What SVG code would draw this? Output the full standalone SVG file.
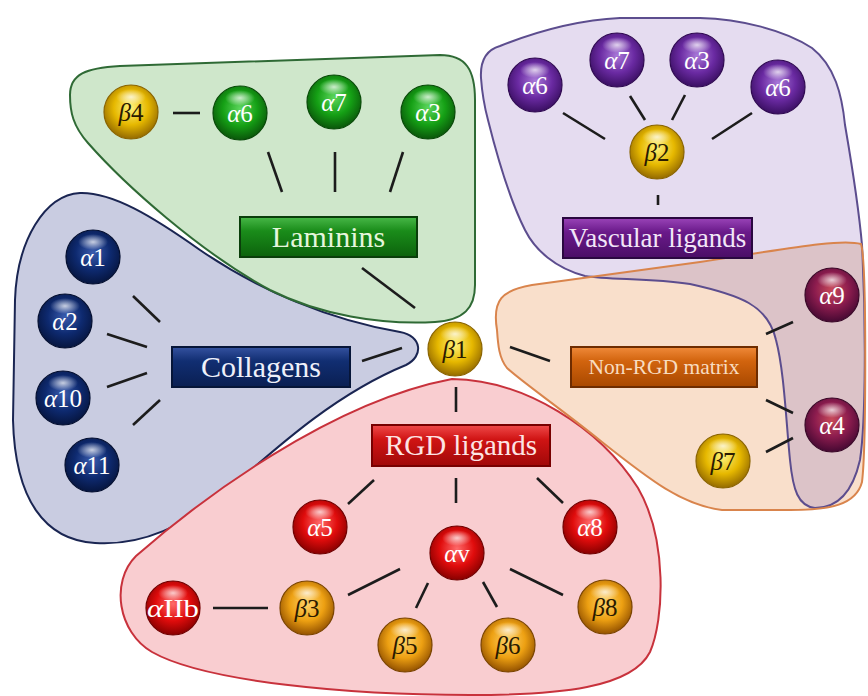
<svg xmlns="http://www.w3.org/2000/svg" width="868" height="696" viewBox="0 0 868 696">
  <defs>
    <style>
      .region { stroke-width: 2; stroke-linejoin: round; }
      .link { stroke: #1c1c1c; stroke-width: 2.6; stroke-linecap: butt; fill: none; }
      .ball { stroke-width: 1.2; }
      .shine { fill: url(#shine); }
      .lbl-w { font-family: "Liberation Serif", "DejaVu Serif", serif; font-size: 25px; fill: #ffffff; text-anchor: middle; }
      .lbl-d { font-family: "Liberation Serif", "DejaVu Serif", serif; font-size: 25px; fill: #2a1a00; text-anchor: middle; }
      .greek { font-style: italic; }
      .box { stroke-width: 2; }
      .boxtxt { font-family: "Liberation Serif", "DejaVu Serif", serif; text-anchor: middle; }
    </style>

    <!-- sphere shading -->
    <radialGradient id="gGreen" cx="50%" cy="42%" r="58%">
      <stop offset="0" stop-color="#5cd65c"/>
      <stop offset="0.55" stop-color="#15a015"/>
      <stop offset="1" stop-color="#0a560a"/>
    </radialGradient>
    <radialGradient id="gNavy" cx="50%" cy="42%" r="58%">
      <stop offset="0" stop-color="#3a5cae"/>
      <stop offset="0.55" stop-color="#0e2a70"/>
      <stop offset="1" stop-color="#06153f"/>
    </radialGradient>
    <radialGradient id="gPurple" cx="50%" cy="42%" r="58%">
      <stop offset="0" stop-color="#a978d8"/>
      <stop offset="0.55" stop-color="#6a2aa2"/>
      <stop offset="1" stop-color="#3a0f62"/>
    </radialGradient>
    <radialGradient id="gYellow" cx="50%" cy="42%" r="58%">
      <stop offset="0" stop-color="#fff27a"/>
      <stop offset="0.55" stop-color="#e6b800"/>
      <stop offset="1" stop-color="#946a00"/>
    </radialGradient>
    <radialGradient id="gOrange" cx="50%" cy="42%" r="58%">
      <stop offset="0" stop-color="#ffd46a"/>
      <stop offset="0.55" stop-color="#eda012"/>
      <stop offset="1" stop-color="#945200"/>
    </radialGradient>
    <radialGradient id="gRed" cx="50%" cy="42%" r="58%">
      <stop offset="0" stop-color="#ff6a6a"/>
      <stop offset="0.55" stop-color="#e00c0c"/>
      <stop offset="1" stop-color="#880000"/>
    </radialGradient>
    <radialGradient id="gMaroon" cx="50%" cy="40%" r="58%">
      <stop offset="0" stop-color="#c84a5a"/>
      <stop offset="0.55" stop-color="#8c1c4e"/>
      <stop offset="1" stop-color="#4a0a34"/>
    </radialGradient>
    <radialGradient id="shine" cx="50%" cy="50%" r="50%">
      <stop offset="0" stop-color="#ffffff" stop-opacity="0.75"/>
      <stop offset="1" stop-color="#ffffff" stop-opacity="0"/>
    </radialGradient>

    <!-- label box shading -->
    <linearGradient id="bGreen" x1="0" y1="0" x2="0" y2="1">
      <stop offset="0" stop-color="#48b848"/>
      <stop offset="0.35" stop-color="#1a8c1a"/>
      <stop offset="1" stop-color="#0c620c"/>
    </linearGradient>
    <linearGradient id="bNavy" x1="0" y1="0" x2="0" y2="1">
      <stop offset="0" stop-color="#3452a0"/>
      <stop offset="0.35" stop-color="#112e72"/>
      <stop offset="1" stop-color="#0a1f52"/>
    </linearGradient>
    <linearGradient id="bPurple" x1="0" y1="0" x2="0" y2="1">
      <stop offset="0" stop-color="#9a44b8"/>
      <stop offset="0.35" stop-color="#6a1a8a"/>
      <stop offset="1" stop-color="#4a0e66"/>
    </linearGradient>
    <linearGradient id="bOrange" x1="0" y1="0" x2="0" y2="1">
      <stop offset="0" stop-color="#f08a3a"/>
      <stop offset="0.35" stop-color="#d2640e"/>
      <stop offset="1" stop-color="#a84800"/>
    </linearGradient>
    <linearGradient id="bRed" x1="0" y1="0" x2="0" y2="1">
      <stop offset="0" stop-color="#f04a4a"/>
      <stop offset="0.35" stop-color="#d01414"/>
      <stop offset="1" stop-color="#a00808"/>
    </linearGradient>

    <path id="orangeShape" d="M 497,330 C 492,300 502,290 532,285 L 700,262 C 780,250 840,238 861,244 C 867,262 866,450 862,482 C 856,505 830,510 790,510 L 722,510 C 682,505 650,480 602,442 C 560,408 522,382 507,368 C 499,358 498,345 497,330 Z"/>
    <clipPath id="orangeClip"><use href="#orangeShape"/></clipPath>
    <path id="purpleShape" d="M 481,78 C 480,60 486,50 500,46 C 540,30 580,20 620,18 L 700,18 C 740,19 785,30 812,48 C 835,66 842,95 845,125 C 851,160 858,200 862,245 C 866,320 866,420 860,460 C 852,495 835,508 815,508 C 798,506 793,490 790,460 C 786,420 784,370 776,340 C 768,305 740,295 690,284 C 650,278 610,280 585,276 C 555,268 535,250 525,230 C 510,200 498,160 488,120 C 484,105 482,92 481,78 Z"/>
  </defs>

  <rect x="0" y="0" width="868" height="696" fill="#ffffff"/>

  <!-- background groupings -->
  <g id="regions">
    <path id="region-collagens" class="region" fill="#c9cce1" stroke="#1a2552"
          d="M 80,193 C 112,192 152,216 200,250 C 260,291 330,320 400,332 C 422,336 424,356 406,365 C 340,392 285,440 235,484 C 185,528 140,546 95,543 C 45,540 15,500 13,420 L 15,300 C 17,240 45,195 80,193 Z"/>
    <path id="region-laminins" class="region" fill="#cfe7cb" stroke="#2f6a35"
          d="M 70,95 C 70,74 86,68 120,66 L 440,55 C 466,55 475,70 475,100 L 475,285 C 475,308 464,320 435,322 C 380,325 320,315 270,290 C 200,252 125,185 88,143 C 73,126 70,112 70,95 Z"/>
    <path id="region-rgd" class="region" fill="#f9cdd0" stroke="#c8323c"
          d="M 452,379 C 525,380 600,428 638,488 C 668,540 664,620 650,652 C 632,688 560,695 470,695 C 350,695 205,682 152,652 C 118,632 110,582 136,556 C 200,500 330,402 452,379 Z"/>
    <use id="region-vascular" href="#purpleShape" class="region" fill="#e5dcf0" stroke="none"/>
    <use id="region-nonrgd" href="#orangeShape" class="region" fill="#f9dfcb" stroke="none"/>
    <use href="#purpleShape" fill="#dcc3c8" clip-path="url(#orangeClip)"/>
    <use href="#purpleShape" fill="none" stroke="#5c4d8e" stroke-width="2"/>
    <use href="#orangeShape" fill="none" stroke="#d9844c" stroke-width="2"/>
  </g>

  <!-- connectors -->
  <g id="connectors" class="link">
    <!-- laminins -->
    <line x1="173" y1="113" x2="200" y2="113"/>
    <line x1="268" y1="152" x2="282" y2="192"/>
    <line x1="335" y1="152" x2="335" y2="192"/>
    <line x1="403" y1="152" x2="390" y2="192"/>
    <line x1="362" y1="268" x2="415" y2="308"/>
    <!-- vascular ligands -->
    <line x1="563" y1="113" x2="605" y2="139"/>
    <line x1="630" y1="96" x2="645" y2="120"/>
    <line x1="685" y1="95" x2="672" y2="120"/>
    <line x1="752" y1="113" x2="712" y2="139"/>
    <line x1="658" y1="195" x2="658" y2="205"/>
    <!-- collagens -->
    <line x1="133" y1="296" x2="160" y2="322"/>
    <line x1="107" y1="334" x2="147" y2="347"/>
    <line x1="107" y1="387" x2="147" y2="373"/>
    <line x1="133" y1="425" x2="160" y2="400"/>
    <line x1="362" y1="361" x2="402" y2="348"/>
    <!-- non-RGD matrix -->
    <line x1="510" y1="347" x2="550" y2="361"/>
    <line x1="766" y1="334" x2="793" y2="322"/>
    <line x1="766" y1="400" x2="793" y2="413"/>
    <line x1="766" y1="452" x2="793" y2="438"/>
    <!-- RGD ligands -->
    <line x1="456" y1="387" x2="456" y2="412"/>
    <line x1="374" y1="480" x2="348" y2="504"/>
    <line x1="456" y1="478" x2="456" y2="503"/>
    <line x1="537" y1="478" x2="563" y2="503"/>
    <line x1="400" y1="569" x2="348" y2="595"/>
    <line x1="428" y1="583" x2="416" y2="608"/>
    <line x1="483" y1="582" x2="497" y2="607"/>
    <line x1="510" y1="569" x2="563" y2="595"/>
    <line x1="213" y1="608" x2="268" y2="608"/>
  </g>

  <!-- ligand class labels -->
  <g id="box-laminins">
    <rect class="box" x="240" y="217" width="177" height="40" fill="url(#bGreen)" stroke="#0a3e0a"/>
    <text class="boxtxt" x="328.5" y="247" font-size="30" fill="#e6f6dc">Laminins</text>
  </g>
  <g id="box-collagens">
    <rect class="box" x="172" y="347" width="178" height="40" fill="url(#bNavy)" stroke="#061538"/>
    <text class="boxtxt" x="261" y="377" font-size="30" fill="#eef0fa">Collagens</text>
  </g>
  <g id="box-vascular">
    <rect class="box" x="563" y="218" width="189" height="40" fill="url(#bPurple)" stroke="#2a0840"/>
    <text class="boxtxt" x="657.5" y="247" font-size="27" fill="#f2e6f8">Vascular ligands</text>
  </g>
  <g id="box-nonrgd">
    <rect class="box" x="571" y="347" width="186" height="40" fill="url(#bOrange)" stroke="#6e2c00"/>
    <text class="boxtxt" x="664" y="374" font-size="21.5" fill="#f8dcc0">Non-RGD matrix</text>
  </g>
  <g id="box-rgd">
    <rect class="box" x="372" y="425" width="178" height="41" fill="url(#bRed)" stroke="#780000"/>
    <text class="boxtxt" x="461" y="455" font-size="29" fill="#fde4e4">RGD ligands</text>
  </g>

  <!-- integrin subunits -->
  <g id="beta1">
    <circle class="ball" cx="455" cy="349" r="27" fill="url(#gYellow)" stroke="#8a6400"/>
    <ellipse class="shine" cx="455" cy="334" rx="15" ry="8"/>
    <text class="lbl-d" x="455" y="358"><tspan class="greek">β</tspan>1</text>
  </g>

  <g id="lam-beta4">
    <circle class="ball" cx="131" cy="112" r="27" fill="url(#gYellow)" stroke="#8a6400"/>
    <ellipse class="shine" cx="131" cy="97" rx="15" ry="8"/>
    <text class="lbl-d" x="131" y="121"><tspan class="greek">β</tspan>4</text>
  </g>
  <g id="lam-alpha6">
    <circle class="ball" cx="240" cy="113" r="27" fill="url(#gGreen)" stroke="#084a08"/>
    <ellipse class="shine" cx="240" cy="98" rx="15" ry="8"/>
    <text class="lbl-w" x="240" y="122"><tspan class="greek">α</tspan>6</text>
  </g>
  <g id="lam-alpha7">
    <circle class="ball" cx="334" cy="102" r="27" fill="url(#gGreen)" stroke="#084a08"/>
    <ellipse class="shine" cx="334" cy="87" rx="15" ry="8"/>
    <text class="lbl-w" x="334" y="111"><tspan class="greek">α</tspan>7</text>
  </g>
  <g id="lam-alpha3">
    <circle class="ball" cx="428" cy="112" r="27" fill="url(#gGreen)" stroke="#084a08"/>
    <ellipse class="shine" cx="428" cy="97" rx="15" ry="8"/>
    <text class="lbl-w" x="428" y="121"><tspan class="greek">α</tspan>3</text>
  </g>

  <g id="vas-alpha6a">
    <circle class="ball" cx="535" cy="85" r="27" fill="url(#gPurple)" stroke="#300a52"/>
    <ellipse class="shine" cx="535" cy="70" rx="15" ry="8"/>
    <text class="lbl-w" x="535" y="94"><tspan class="greek">α</tspan>6</text>
  </g>
  <g id="vas-alpha7">
    <circle class="ball" cx="617" cy="60" r="27" fill="url(#gPurple)" stroke="#300a52"/>
    <ellipse class="shine" cx="617" cy="45" rx="15" ry="8"/>
    <text class="lbl-w" x="617" y="69"><tspan class="greek">α</tspan>7</text>
  </g>
  <g id="vas-alpha3">
    <circle class="ball" cx="697" cy="60" r="27" fill="url(#gPurple)" stroke="#300a52"/>
    <ellipse class="shine" cx="697" cy="45" rx="15" ry="8"/>
    <text class="lbl-w" x="697" y="69"><tspan class="greek">α</tspan>3</text>
  </g>
  <g id="vas-alpha6b">
    <circle class="ball" cx="778" cy="87" r="27" fill="url(#gPurple)" stroke="#300a52"/>
    <ellipse class="shine" cx="778" cy="72" rx="15" ry="8"/>
    <text class="lbl-w" x="778" y="96"><tspan class="greek">α</tspan>6</text>
  </g>
  <g id="vas-beta2">
    <circle class="ball" cx="657" cy="152" r="27" fill="url(#gYellow)" stroke="#8a6400"/>
    <ellipse class="shine" cx="657" cy="137" rx="15" ry="8"/>
    <text class="lbl-d" x="657" y="161"><tspan class="greek">β</tspan>2</text>
  </g>

  <g id="col-alpha1">
    <circle class="ball" cx="93" cy="257" r="27" fill="url(#gNavy)" stroke="#040f30"/>
    <ellipse class="shine" cx="93" cy="242" rx="15" ry="8"/>
    <text class="lbl-w" x="93" y="266"><tspan class="greek">α</tspan>1</text>
  </g>
  <g id="col-alpha2">
    <circle class="ball" cx="65" cy="321" r="27" fill="url(#gNavy)" stroke="#040f30"/>
    <ellipse class="shine" cx="65" cy="306" rx="15" ry="8"/>
    <text class="lbl-w" x="65" y="330"><tspan class="greek">α</tspan>2</text>
  </g>
  <g id="col-alpha10">
    <circle class="ball" cx="63" cy="398" r="27" fill="url(#gNavy)" stroke="#040f30"/>
    <ellipse class="shine" cx="63" cy="383" rx="15" ry="8"/>
    <text class="lbl-w" x="63" y="407"><tspan class="greek">α</tspan>10</text>
  </g>
  <g id="col-alpha11">
    <circle class="ball" cx="92" cy="465" r="27" fill="url(#gNavy)" stroke="#040f30"/>
    <ellipse class="shine" cx="92" cy="450" rx="15" ry="8"/>
    <text class="lbl-w" x="92" y="474"><tspan class="greek">α</tspan>11</text>
  </g>

  <g id="nrgd-alpha9">
    <circle class="ball" cx="832" cy="295" r="27" fill="url(#gMaroon)" stroke="#3a0828"/>
    <ellipse class="shine" cx="832" cy="280" rx="15" ry="8"/>
    <text class="lbl-w" x="832" y="304"><tspan class="greek">α</tspan>9</text>
  </g>
  <g id="nrgd-alpha4">
    <circle class="ball" cx="832" cy="425" r="27" fill="url(#gMaroon)" stroke="#3a0828"/>
    <ellipse class="shine" cx="832" cy="410" rx="15" ry="8"/>
    <text class="lbl-w" x="832" y="434"><tspan class="greek">α</tspan>4</text>
  </g>
  <g id="nrgd-beta7">
    <circle class="ball" cx="723" cy="461" r="27" fill="url(#gYellow)" stroke="#8a6400"/>
    <ellipse class="shine" cx="723" cy="446" rx="15" ry="8"/>
    <text class="lbl-d" x="723" y="470"><tspan class="greek">β</tspan>7</text>
  </g>

  <g id="rgd-alpha5">
    <circle class="ball" cx="320" cy="527" r="27" fill="url(#gRed)" stroke="#700000"/>
    <ellipse class="shine" cx="320" cy="512" rx="15" ry="8"/>
    <text class="lbl-w" x="320" y="536"><tspan class="greek">α</tspan>5</text>
  </g>
  <g id="rgd-alphav">
    <circle class="ball" cx="457" cy="553" r="27" fill="url(#gRed)" stroke="#700000"/>
    <ellipse class="shine" cx="457" cy="538" rx="15" ry="8"/>
    <text class="lbl-w" x="457" y="562"><tspan class="greek">α</tspan>v</text>
  </g>
  <g id="rgd-alpha8">
    <circle class="ball" cx="590" cy="527" r="27" fill="url(#gRed)" stroke="#700000"/>
    <ellipse class="shine" cx="590" cy="512" rx="15" ry="8"/>
    <text class="lbl-w" x="590" y="536"><tspan class="greek">α</tspan>8</text>
  </g>
  <g id="rgd-alphaIIb">
    <circle class="ball" cx="173" cy="608" r="27" fill="url(#gRed)" stroke="#700000"/>
    <ellipse class="shine" cx="173" cy="593" rx="15" ry="8"/>
    <text class="lbl-w" x="173" y="617" textLength="52" lengthAdjust="spacingAndGlyphs"><tspan class="greek">α</tspan>IIb</text>
  </g>
  <g id="rgd-beta3">
    <circle class="ball" cx="307" cy="608" r="27" fill="url(#gOrange)" stroke="#7a4400"/>
    <ellipse class="shine" cx="307" cy="593" rx="15" ry="8"/>
    <text class="lbl-d" x="307" y="617"><tspan class="greek">β</tspan>3</text>
  </g>
  <g id="rgd-beta5">
    <circle class="ball" cx="405" cy="645" r="27" fill="url(#gOrange)" stroke="#7a4400"/>
    <ellipse class="shine" cx="405" cy="630" rx="15" ry="8"/>
    <text class="lbl-d" x="405" y="654"><tspan class="greek">β</tspan>5</text>
  </g>
  <g id="rgd-beta6">
    <circle class="ball" cx="508" cy="645" r="27" fill="url(#gOrange)" stroke="#7a4400"/>
    <ellipse class="shine" cx="508" cy="630" rx="15" ry="8"/>
    <text class="lbl-d" x="508" y="654"><tspan class="greek">β</tspan>6</text>
  </g>
  <g id="rgd-beta8">
    <circle class="ball" cx="605" cy="607" r="27" fill="url(#gOrange)" stroke="#7a4400"/>
    <ellipse class="shine" cx="605" cy="592" rx="15" ry="8"/>
    <text class="lbl-d" x="605" y="616"><tspan class="greek">β</tspan>8</text>
  </g>
</svg>
